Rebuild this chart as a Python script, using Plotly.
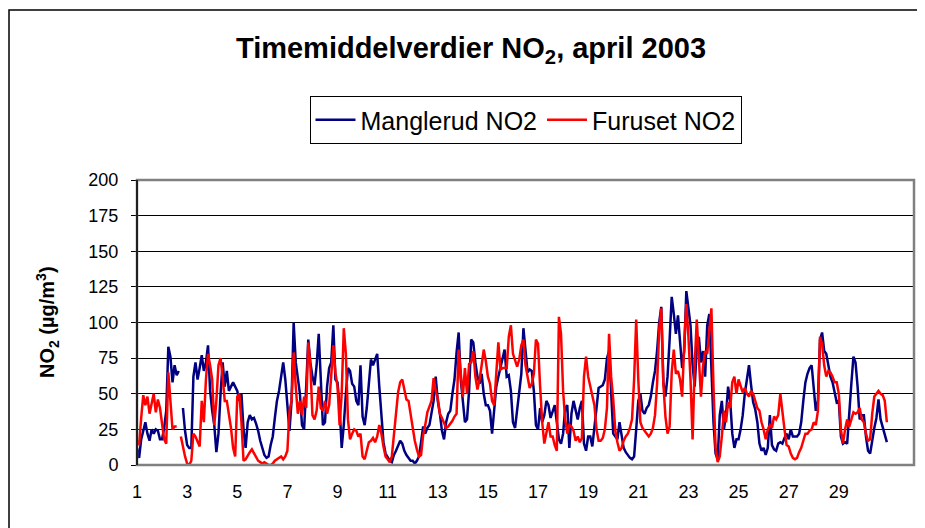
import plotly.graph_objects as go

# Hourly NO2 (2-hour steps), April 2003, 12 values per day
manglerud_no2 = [
    12, 5, 18, 25, 30, 22, 17, 25, 22, 25, 24, 18,
    18, 26, 38, 83, 76, 58, 70, 63, 66, None, 40, 24,
    14, 12, 12, 62, 72, 60, 68, 77, 66, 72, 84, 52,
    38, 28, 9, 22, 50, 72, 55, 66, 52, 55, 58, 55,
    52, 45, 50, 25, 12, 30, 35, 32, 33, 29, 24, 17,
    12, 7, 5, 6, 14, 20, 33, 45, 52, 62, 72, 60,
    40, 24, 45, 100, 72, 60, 50, 28, 25, 55, 88, 72,
    62, 56, 70, 92, 62, 28, 30, 55, 68, 72, 98, 60,
    58, 40, 12, 28, 50, 68, 66, 57, 55, 45, 42, 70,
    34, 28, 40, 60, 74, 70, 74, 78, 55, 35, 16, 8,
    5, 3, 2, 7, 10, 14, 17, 15, 10, 7, 5, 3,
    3, 1, 3, 6, 16, 27, 22, 26, 28, 37, 45, 62,
    45, 36, 24, 18, 30, 36, 38, 50, 60, 79, 93, 60,
    42, 30, 32, 52, 88, 86, 72, 62, 57, 64, 50, 42,
    42, 38, 22, 36, 55, 62, 68, 75, 81, 62, 63, 52,
    30, 26, 40, 52, 64, 96, 80, 65, 67, 66, 52, 28,
    25, 40, 30, 35, 45, 42, 33, 38, 42, 30, 18, 15,
    22, 40, 42, 12, 36, 45, 38, 32, 40, 45, 15, 10,
    20, 20, 13, 25, 40, 54, 55, 56, 60, 75, 80, 45,
    22, 20, 18, 30, 20, 12, 9, 7, 5, 4, 6, 25,
    45, 50, 38, 36, 40, 42, 48, 58, 66, 80, 100, 111,
    58, 48, 62, 88, 118, 106, 92, 105, 85, 68, 80, 122,
    110, 98, 70, 55, 82, 90, 72, 80, 62, 98, 106, 70,
    30, 8, 4, 35, 45, 25, 35, 55, 45, 22, 12, 18,
    18, 25, 35, 50, 62, 70, 56, 44, 39, 30, 15, 10,
    12, 7, 12, 35, 14, 11, 10, 15, 16, 15, 19, 22,
    18, 25, 20, 20, 20, 22, 30, 45, 58, 64, 68, 70,
    55, 38, 45, 88, 93, 80, 78, 70, 62, 58, 50, 44,
    45, 20, 15, 16, 15, 40, 57, 76, 72, 55, 32, 35,
    35, 20, 10, 8, 18, 26, 33, 46, 32, 27, 22, 16,
]

furuset_no2 = [
    17, 14, 33, 49, 42, 48, 36, 44, 50, 37, 46, 40,
    30, 18, 15, 65, 45, 25, 27, 27, None, 20, 12, 6,
    1, 0, 3, 22, 20, 16, 13, 45, 30, 60, 78, 70,
    60, 28, 45, 70, 75, 62, 45, 45, 35, 26, 12, 6,
    48, 50, 30, 3, 4, 7, 9, 11, 8, 6, 3, 2,
    1, 2, 1, 0, 0, 1, 3, 4, 5, 6, 4, 6,
    10, 38, 45, 79, 55, 36, 45, 35, 48, 40, 86, 70,
    35, 32, 38, 55, 40, 38, 45, 36, 42, 60, 84, 65,
    55, 28, 50, 96, 78, 32, 18, 22, 25, 24, 20, 22,
    6, 4, 10, 16, 17, 19, 16, 20, 28, 22, 13, 6,
    4, 2, 6, 20, 36, 51, 58, 60, 53, 46, 45, 35,
    24, 17, 11, 6, 7, 21, 28, 37, 41, 45, 61, 52,
    47, 36, 33, 30, 26, 27, 29, 31, 34, 36, 81, 65,
    48, 68, 50, 71, 72, 80, 62, 53, 60, 70, 81, 73,
    62, 57, 45, 42, 65, 86, 67, 68, 68, 68, 90, 98,
    78, 74, 69, 74, 84, 88, 70, 62, 54, 57, 64, 88,
    85, 55, 30, 15, 22, 30, 20, 20, 14, 10, 104, 92,
    52, 32, 22, 28, 27, 24, 17, 20, 16, 19, 62, 76,
    62, 56, 50, 42, 25, 17, 17, 19, 25, 40, 92, 62,
    46, 24, 16, 10, 12, 17, 20, 22, 26, 32, 60, 102,
    60, 30, 26, 24, 22, 20, 22, 26, 35, 57, 95, 110,
    57, 34, 22, 27, 65, 81, 64, 66, 60, 48, 85, 113,
    90, 60, 18, 70, 102, 75, 48, 69, 80, 78, 95, 110,
    55, 12, 2, 6, 20, 38, 30, 44, 40, 58, 62, 50,
    60, 55, 51, 54, 50, 48, 52, 50, 45, 40, 38, 30,
    25, 18, 25, 28, 26, 34, 32, 35, 50, 36, 25, 14,
    13, 8, 5, 4, 5, 9, 12, 17, 22, 22, 24, 25,
    30, 28, 38, 90, 85, 70, 62, 66, 65, 62, 58, 58,
    50, 25, 15, 25, 32, 27, 32, 37, 36, 37, 40, 32,
    30, 22, 17, 18, 36, 48, 50, 52, 50, 49, 45, 30,
]

step_hours = 2
day_ticks = list(range(1, 30, 2))
day_labels = [str(d) for d in day_ticks]
y_ticks = list(range(0, 201, 25))

x_m = [1 + i * step_hours / 24 for i in range(len(manglerud_no2))]
x_f = [1 + i * step_hours / 24 for i in range(len(furuset_no2))]

FONT = "Liberation Sans, Arial, sans-serif"

# figure is drawn inside the page's default 8px body margin
W, H = 917, 520
L, R, T, B = 129, 11, 172, 63
PW, PH = W - L - R, H - T - B


def px(fx):
    return (fx - L) / PW


def py(fy):
    return (H - B - fy) / PH


fig = go.Figure()
fig.add_trace(go.Scatter(x=x_m, y=manglerud_no2, mode="lines", name="Manglerud NO2",
                         line=dict(color="#000080", width=2.5), connectgaps=False))
fig.add_trace(go.Scatter(x=x_f, y=furuset_no2, mode="lines", name="Furuset NO2",
                         line=dict(color="#FF0000", width=2.5), connectgaps=False))

fig.update_layout(
    width=W, height=H,
    margin=dict(l=L, r=R, t=T, b=B, autoexpand=False),
    paper_bgcolor="white", plot_bgcolor="white",
    font=dict(family=FONT, color="black", size=18),
    title=dict(text="<b>Timemiddelverdier NO<sub>2</sub>, april 2003</b>",
               x=463 / W, xref="container", xanchor="center",
               y=1 - 40 / H, yref="container", yanchor="middle",
               font=dict(size=29, family=FONT, color="black")),
    showlegend=True,
    legend=dict(orientation="h", x=0.5, xanchor="center", y=py(88), yanchor="top",
                bordercolor="black", borderwidth=1, bgcolor="white",
                font=dict(size=25, family=FONT), itemwidth=40, tracegroupgap=0),
    xaxis=dict(range=[1, 32.0], tickvals=day_ticks, ticktext=day_labels,
               showgrid=False, zeroline=False, showline=False, ticks="",
               ticklabelstandoff=14, tickfont=dict(size=18), fixedrange=True),
    yaxis=dict(range=[0, 200], tickvals=y_ticks, showgrid=True, gridcolor="black", gridwidth=1,
               zeroline=False, showline=False, ticks="outside", ticklen=5, tickcolor="black",
               tickwidth=1, ticklabelstandoff=9, tickfont=dict(size=18), fixedrange=True),
    shapes=[
        dict(type="rect", xref="paper", yref="paper", x0=0, x1=1, y0=0, y1=1,
             line=dict(color="#808080", width=2.5), layer="above"),
        dict(type="line", xref="paper", yref="paper", x0=0, x1=0, y0=0, y1=1,
             line=dict(color="black", width=1.5), layer="above"),
        dict(type="rect", xref="paper", yref="paper",
             x0=px(1), x1=1.2, y0=-0.5, y1=py(2),
             line=dict(color="black", width=1.5), layer="above"),
    ],
    annotations=[
        dict(text="<b>NO<sub>2</sub> (µg/m<sup>3</sup>)</b>", textangle=-90,
             xref="paper", yref="paper", x=px(39), y=py(314),
             xanchor="center", yanchor="middle", showarrow=False,
             font=dict(size=20, family=FONT, color="black")),
    ],
)

fig.write_html("out.html")
